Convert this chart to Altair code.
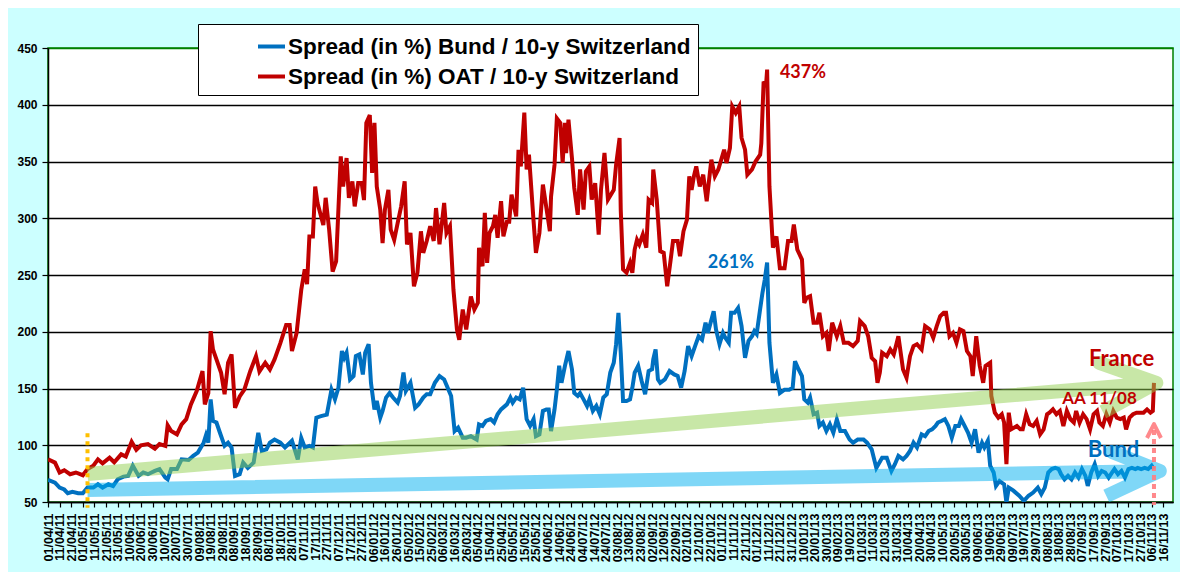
import altair as alt
import pandas as pd

bund_name = "Spread (in %) Bund / 10-y Switzerland"
oat_name = "Spread (in %) OAT / 10-y Switzerland"

oat_dates = [
    "2011-04-01", "2011-04-07", "2011-04-11", "2011-04-15", "2011-04-20", "2011-04-25",
    "2011-05-01", "2011-05-05", "2011-05-10", "2011-05-14", "2011-05-18", "2011-05-24", "2011-05-28",
    "2011-06-03", "2011-06-07", "2011-06-12", "2011-06-16", "2011-06-20", "2011-06-26",
    "2011-07-02", "2011-07-06", "2011-07-11", "2011-07-13", "2011-07-16", "2011-07-21", "2011-07-25", "2011-07-29",
    "2011-08-02", "2011-08-07", "2011-08-12", "2011-08-14", "2011-08-17", "2011-08-19", "2011-08-21", "2011-08-24", "2011-08-28", "2011-08-31",
    "2011-09-03", "2011-09-06", "2011-09-09", "2011-09-13", "2011-09-17", "2011-09-22", "2011-09-27", "2011-09-30",
    "2011-10-05", "2011-10-09", "2011-10-13", "2011-10-18", "2011-10-23", "2011-10-26", "2011-10-28",
    "2011-11-01", "2011-11-05", "2011-11-08", "2011-11-10", "2011-11-12", "2011-11-15", "2011-11-17", "2011-11-19", "2011-11-24", "2011-11-26", "2011-11-29",
    "2011-12-02", "2011-12-05", "2011-12-09", "2011-12-11", "2011-12-14", "2011-12-16", "2011-12-19", "2011-12-21", "2011-12-24", "2011-12-27", "2011-12-29", "2011-12-31",
    "2012-01-03", "2012-01-05", "2012-01-07", "2012-01-09", "2012-01-12", "2012-01-14", "2012-01-16", "2012-01-19", "2012-01-21", "2012-01-24", "2012-01-27", "2012-01-30",
    "2012-02-02", "2012-02-04", "2012-02-07", "2012-02-10", "2012-02-13", "2012-02-16", "2012-02-18", "2012-02-21", "2012-02-24", "2012-02-27", "2012-02-29",
    "2012-03-03", "2012-03-07", "2012-03-09", "2012-03-12", "2012-03-15", "2012-03-18", "2012-03-20", "2012-03-23", "2012-03-26", "2012-03-30",
    "2012-04-02", "2012-04-05", "2012-04-06", "2012-04-09", "2012-04-11", "2012-04-13", "2012-04-15", "2012-04-18", "2012-04-20", "2012-04-22", "2012-04-25", "2012-04-27", "2012-04-30",
    "2012-05-02", "2012-05-04", "2012-05-08", "2012-05-10", "2012-05-12", "2012-05-15", "2012-05-17", "2012-05-19", "2012-05-23", "2012-05-25", "2012-05-28", "2012-05-31",
    "2012-06-03", "2012-06-06", "2012-06-07", "2012-06-10", "2012-06-12", "2012-06-15", "2012-06-17", "2012-06-19", "2012-06-20", "2012-06-22", "2012-06-25", "2012-06-27", "2012-06-30",
    "2012-07-02", "2012-07-05", "2012-07-07", "2012-07-10", "2012-07-12", "2012-07-15", "2012-07-18", "2012-07-20", "2012-07-23", "2012-07-26", "2012-07-31",
    "2012-08-02", "2012-08-05", "2012-08-06", "2012-08-08", "2012-08-11", "2012-08-14", "2012-08-16", "2012-08-18", "2012-08-20", "2012-08-22", "2012-08-25", "2012-08-28", "2012-08-30",
    "2012-09-02", "2012-09-03", "2012-09-06", "2012-09-09", "2012-09-12", "2012-09-15", "2012-09-18", "2012-09-20", "2012-09-24", "2012-09-26", "2012-09-29",
    "2012-10-02", "2012-10-04", "2012-10-06", "2012-10-08", "2012-10-10", "2012-10-13", "2012-10-16", "2012-10-19", "2012-10-23", "2012-10-26", "2012-10-29",
    "2012-11-03", "2012-11-05", "2012-11-08", "2012-11-10", "2012-11-13", "2012-11-16", "2012-11-18", "2012-11-21", "2012-11-23", "2012-11-27", "2012-11-30",
    "2012-12-04", "2012-12-05", "2012-12-07", "2012-12-09", "2012-12-10", "2012-12-12", "2012-12-15", "2012-12-18", "2012-12-21", "2012-12-25", "2012-12-28", "2012-12-31",
    "2013-01-02", "2013-01-05", "2013-01-09", "2013-01-11", "2013-01-13", "2013-01-16", "2013-01-19", "2013-01-22", "2013-01-24", "2013-01-27", "2013-01-30",
    "2013-02-01", "2013-02-04", "2013-02-08", "2013-02-11", "2013-02-14", "2013-02-18", "2013-02-22", "2013-02-26", "2013-02-28",
    "2013-03-04", "2013-03-07", "2013-03-10", "2013-03-13", "2013-03-15", "2013-03-17", "2013-03-19", "2013-03-23", "2013-03-26", "2013-03-29",
    "2013-04-02", "2013-04-06", "2013-04-09", "2013-04-12", "2013-04-15", "2013-04-18", "2013-04-22", "2013-04-25", "2013-04-29",
    "2013-05-02", "2013-05-05", "2013-05-08", "2013-05-11", "2013-05-13", "2013-05-16", "2013-05-19", "2013-05-22", "2013-05-25", "2013-05-28", "2013-05-31",
    "2013-06-03", "2013-06-05", "2013-06-08", "2013-06-11", "2013-06-14", "2013-06-16", "2013-06-20", "2013-06-21", "2013-06-24", "2013-06-27", "2013-06-30",
    "2013-07-02", "2013-07-04", "2013-07-06", "2013-07-08", "2013-07-13", "2013-07-16", "2013-07-18", "2013-07-21", "2013-07-24", "2013-07-27", "2013-07-30",
    "2013-08-02", "2013-08-05", "2013-08-08", "2013-08-10", "2013-08-13", "2013-08-16", "2013-08-19", "2013-08-22", "2013-08-25", "2013-08-28", "2013-08-31",
    "2013-09-02", "2013-09-05", "2013-09-08", "2013-09-11", "2013-09-14", "2013-09-17", "2013-09-20", "2013-09-22", "2013-09-25", "2013-09-28",
    "2013-10-01", "2013-10-04", "2013-10-07", "2013-10-10", "2013-10-13", "2013-10-15", "2013-10-18", "2013-10-21", "2013-10-24", "2013-10-27", "2013-10-30",
    "2013-11-02", "2013-11-05", "2013-11-07", "2013-11-08",
]
oat_values = [
    87.6, 84.7, 76, 78, 74.5, 76,
    73.6, 79, 82, 87.6, 84, 89, 85,
    92, 90, 103, 96, 100, 101,
    97, 101, 99.5, 117.6, 112.5, 109.6, 118.4, 123,
    136, 147.8, 165.4, 136, 146, 200.5, 184.4, 175.6, 163.9, 145,
    172.7, 180, 133, 143, 149, 165, 178.5, 165,
    172.7, 166.8, 175.6, 190, 206, 206, 183,
    199, 237, 255, 242, 284, 284, 328, 313.5, 294, 318, 290,
    253, 262, 354.5, 328, 353, 318, 332.5, 310.5, 331, 331, 316, 384,
    391, 340, 384, 328, 307.6, 278, 307.6, 325, 290, 281, 296, 310.5,
    332.5, 277, 287, 240, 252, 288.5, 269.5, 280, 293, 280, 309,
    277, 313.5, 287, 293, 237, 202, 193, 219.6, 202, 231,
    219.6, 225.5, 274, 257.7, 304.7, 260.7, 287, 293, 303, 282.7, 315, 284, 297,
    297, 320.8, 301.7, 360.4, 345.7, 393, 343, 356, 297, 269.5, 287, 329.6,
    309, 288.5, 319, 347, 388, 384, 348.7, 384, 357.5, 386.8, 353, 326.7, 303,
    343, 307.6, 341.3, 345.7, 316.4, 331, 285.6, 325, 357.5, 316.4, 325,
    347, 370.7, 307.6, 255, 252, 260.7, 252, 272.4, 281, 277, 285.6, 274, 316.4,
    313.5, 343, 316.4, 271, 269.5, 240, 263.6, 280, 280, 266.5, 288.5,
    298.8, 337, 325, 337, 345.7, 328, 338.4, 315, 351.6, 337, 343,
    360.4, 348.7, 362, 398.5, 392.7, 398.5, 370.7, 360.4, 338.4, 343, 350,
    356, 366, 420.5, 416, 431, 328, 274, 284, 256, 256, 280, 280,
    294.4, 272.4, 263.6, 225.5, 230, 231.4, 208, 208, 216.7, 196, 199,
    183, 208, 196, 205, 190.3, 190.3, 187.4, 192, 209.4,
    205, 196, 177, 174, 155, 164, 181.5, 178.5, 184.4, 180,
    196, 166.8, 159.5, 178.5, 187.4, 189, 184.4, 205, 202,
    194.7, 205, 213.7, 216.7, 216.7, 196, 199, 190.3, 202, 200.5, 183,
    178.5, 161, 196, 170, 155, 170, 172.7, 143.4, 128.7, 124.3, 127.3,
    120, 83.3, 128.7, 114, 117, 114, 114, 127.3, 118.4, 117, 121.4,
    109.6, 114, 127.3, 128.7, 131.6, 127.3, 130.2, 117, 130.2, 123, 120,
    130.2, 120, 127.3, 123, 114, 127.3, 130.2, 120, 117, 127.3,
    120, 130.2, 124.3, 123, 124.3, 114, 124.3, 127.3, 128.7, 128.7, 128.7,
    131.6, 128.7, 130.2, 155,
]

bund_dates = [
    "2011-04-01", "2011-04-07", "2011-04-11", "2011-04-15", "2011-04-18", "2011-04-22", "2011-04-27",
    "2011-05-01", "2011-05-05", "2011-05-10", "2011-05-14", "2011-05-18", "2011-05-23", "2011-05-27", "2011-05-31",
    "2011-06-05", "2011-06-09", "2011-06-13", "2011-06-18", "2011-06-22", "2011-06-26",
    "2011-07-02", "2011-07-06", "2011-07-11", "2011-07-13", "2011-07-16", "2011-07-21", "2011-07-25", "2011-07-31",
    "2011-08-04", "2011-08-08", "2011-08-13", "2011-08-15", "2011-08-17", "2011-08-19", "2011-08-21", "2011-08-24", "2011-08-27", "2011-08-31",
    "2011-09-03", "2011-09-06", "2011-09-09", "2011-09-13", "2011-09-16", "2011-09-20", "2011-09-25", "2011-09-29",
    "2011-10-02", "2011-10-06", "2011-10-09", "2011-10-13", "2011-10-18", "2011-10-22", "2011-10-28",
    "2011-11-02", "2011-11-05", "2011-11-08", "2011-11-12", "2011-11-15", "2011-11-18", "2011-11-22", "2011-11-27",
    "2011-12-01", "2011-12-04", "2011-12-07", "2011-12-10", "2011-12-12", "2011-12-14", "2011-12-17", "2011-12-20", "2011-12-22", "2011-12-25", "2011-12-28", "2011-12-30",
    "2012-01-02", "2012-01-04", "2012-01-07", "2012-01-09", "2012-01-12", "2012-01-14", "2012-01-17", "2012-01-20", "2012-01-23", "2012-01-27", "2012-01-29",
    "2012-02-01", "2012-02-03", "2012-02-07", "2012-02-11", "2012-02-14", "2012-02-18", "2012-02-21", "2012-02-24", "2012-02-28",
    "2012-03-03", "2012-03-07", "2012-03-10", "2012-03-13", "2012-03-16", "2012-03-19", "2012-03-23", "2012-03-26", "2012-03-30",
    "2012-04-04", "2012-04-06", "2012-04-09", "2012-04-12", "2012-04-16", "2012-04-19", "2012-04-22", "2012-04-25", "2012-04-30",
    "2012-05-03", "2012-05-05", "2012-05-08", "2012-05-11", "2012-05-14", "2012-05-17", "2012-05-20", "2012-05-23", "2012-05-25", "2012-05-28", "2012-05-31",
    "2012-06-03", "2012-06-05", "2012-06-07", "2012-06-10", "2012-06-12", "2012-06-14", "2012-06-16", "2012-06-19", "2012-06-22", "2012-06-25", "2012-06-27", "2012-06-30",
    "2012-07-02", "2012-07-05", "2012-07-08", "2012-07-10", "2012-07-13", "2012-07-16", "2012-07-19", "2012-07-22", "2012-07-25", "2012-07-28", "2012-07-31",
    "2012-08-02", "2012-08-04", "2012-08-06", "2012-08-08", "2012-08-11", "2012-08-14", "2012-08-16", "2012-08-18", "2012-08-21", "2012-08-24", "2012-08-27", "2012-08-30",
    "2012-09-02", "2012-09-03", "2012-09-05", "2012-09-07", "2012-09-09", "2012-09-13", "2012-09-17", "2012-09-21", "2012-09-24", "2012-09-27", "2012-09-30",
    "2012-10-03", "2012-10-06", "2012-10-09", "2012-10-12", "2012-10-15", "2012-10-18", "2012-10-20", "2012-10-25", "2012-10-27", "2012-10-30",
    "2012-11-02", "2012-11-04", "2012-11-07", "2012-11-09", "2012-11-12", "2012-11-15", "2012-11-18", "2012-11-21", "2012-11-24", "2012-11-27", "2012-11-29",
    "2012-12-01", "2012-12-04", "2012-12-06", "2012-12-08", "2012-12-10", "2012-12-12", "2012-12-15", "2012-12-18", "2012-12-21", "2012-12-25", "2012-12-29",
    "2013-01-01", "2013-01-03", "2013-01-06", "2013-01-09", "2013-01-11", "2013-01-14", "2013-01-16", "2013-01-19", "2013-01-22", "2013-01-24", "2013-01-27", "2013-01-30",
    "2013-02-02", "2013-02-05", "2013-02-08", "2013-02-11", "2013-02-15", "2013-02-19", "2013-02-22", "2013-02-26",
    "2013-03-03", "2013-03-06", "2013-03-10", "2013-03-14", "2013-03-19", "2013-03-23", "2013-03-27", "2013-03-30",
    "2013-04-02", "2013-04-06", "2013-04-09", "2013-04-12", "2013-04-15", "2013-04-18", "2013-04-22", "2013-04-25", "2013-04-28",
    "2013-05-01", "2013-05-04", "2013-05-06", "2013-05-09", "2013-05-12", "2013-05-15", "2013-05-18", "2013-05-21", "2013-05-24", "2013-05-26", "2013-05-29",
    "2013-06-01", "2013-06-04", "2013-06-07", "2013-06-10", "2013-06-13", "2013-06-15", "2013-06-18", "2013-06-20", "2013-06-23", "2013-06-25", "2013-06-28",
    "2013-07-02", "2013-07-04", "2013-07-06", "2013-07-10", "2013-07-15", "2013-07-19", "2013-07-23", "2013-07-27", "2013-07-31",
    "2013-08-03", "2013-08-06", "2013-08-09", "2013-08-12", "2013-08-15", "2013-08-18", "2013-08-20", "2013-08-23", "2013-08-26", "2013-08-29",
    "2013-09-01", "2013-09-04", "2013-09-07", "2013-09-10", "2013-09-12", "2013-09-15", "2013-09-18", "2013-09-21", "2013-09-24", "2013-09-27", "2013-09-30",
    "2013-10-03", "2013-10-05", "2013-10-08", "2013-10-11", "2013-10-14", "2013-10-17", "2013-10-20", "2013-10-23", "2013-10-25", "2013-10-28", "2013-10-31",
    "2013-11-03", "2013-11-06", "2013-11-08",
]
bund_values = [
    69.5, 67, 62.7, 61, 57.7, 59, 57.7,
    57.7, 62.7, 62.7, 65.6, 62.7, 65.6, 64, 70,
    72.4, 73, 82, 73, 76, 74.5,
    77.4, 79, 71.5, 70, 79, 79, 87.6, 87,
    90.6, 93.5, 102.3, 108.8, 102.3, 140.4, 121.4, 120, 111, 99.5,
    102.3, 98, 73, 74.5, 84.7, 80, 84.7, 111,
    95, 96.4, 102.3, 105, 102.3, 98, 104,
    87.6, 106.4, 98, 99.5, 98, 124.3, 125.7, 127,
    149, 140.4, 150.7, 183, 177, 181.5, 158, 161, 178.5, 180, 162.4, 181.5,
    189, 155, 131.6, 139, 124.3, 130.2, 142, 146, 142, 137.5, 143.4,
    164, 147.8, 155, 133, 136, 142, 145, 145, 155,
    161, 158, 150.7, 143.4, 112.5, 115.5, 106.7, 106.7, 108,
    105, 118.4, 117, 121.4, 123, 120, 127.3, 131.6, 136,
    142, 137.5, 142, 140.4, 150.7, 123, 117, 123, 108, 109.5, 130.2,
    131.6, 131.6, 112.5, 131.6, 149, 170, 155, 170, 183, 167, 146, 143.4,
    146, 140.4, 134.6, 140.4, 130.2, 134.6, 127.3, 142, 145, 164, 172.7,
    189, 216.7, 181.5, 139, 139, 140.4, 150.7, 164, 170, 156.6, 145, 165.4,
    167, 175.6, 184.4, 158, 155, 158, 165.4, 162.4, 161, 150.7, 165.4,
    187.4, 178.5, 187.4, 196, 193, 208, 199, 218, 202, 189,
    199, 194.7, 190.3, 216.7, 216.7, 221, 205, 177, 192, 196, 200.6,
    198, 220, 234.3, 246, 261, 190.3, 155, 162.4, 146, 149, 149,
    150.7, 174, 167, 161, 140.4, 137.5, 142, 127.3, 128.7, 117, 120, 112.6,
    118.5, 111, 122.8, 112.6, 112.6, 105, 102.3, 105,
    105, 102.3, 96.4, 80, 89, 89, 77.4, 83.3,
    90.6, 87.6, 90.6, 95, 102.3, 98, 109.6, 108, 112.5,
    114, 117, 120, 121.4, 123, 117, 106.7, 117, 117, 123, 117,
    111, 102.3, 114, 93.5, 102.3, 98, 104, 82, 76, 64.2, 68.5,
    65.6, 49.5, 62.7, 60, 55.5, 51, 55.5, 58.3, 62.7,
    57, 62.7, 76, 79, 80, 79, 74.5, 70, 73, 70,
    76, 71.5, 79, 73, 64.2, 76, 83.3, 73, 77.4, 76, 71.5,
    76, 79, 74.5, 77.4, 71.5, 79, 80, 79, 80, 79, 80,
    79, 82, 79,
]

# hand-drawn arrows of the original: main shaft, then the two arms of the head
green_arrow_dates = ["2011-05-05", "2013-11-10", "2013-09-22", "2013-11-10", "2013-09-25"]
green_arrow_values = [74.7, 154.9, 172.5, 154.9, 129.3]
blue_arrow_dates = ["2011-05-05", "2013-11-13", "2013-10-03", "2013-11-13", "2013-09-28"]
blue_arrow_values = [60.6, 77.3, 94.1, 77.3, 55.3]
pink_head_dates = ["2013-11-02", "2013-11-08", "2013-11-14"]
pink_head_values = [106.4, 118.7, 106.4]

tick_dates = pd.date_range("2011-04-01", "2013-11-16", freq="10D")
tick_ms = [int(t.value // 10**6) for t in tick_dates]
y_ticks = [50, 100, 150, 200, 250, 300, 350, 400, 450]

lines = pd.concat([
    pd.DataFrame({"date": bund_dates, "spread": bund_values, "series": bund_name}),
    pd.DataFrame({"date": oat_dates, "spread": oat_values, "series": oat_name}),
])

x_scale = alt.Scale(
    type="utc",
    domain=[alt.DateTime(year=2011, month=4, date=1, utc=True),
            alt.DateTime(year=2013, month=11, date=24, hours=9, utc=True)],
)
y_scale = alt.Scale(domain=[50, 450], nice=False, zero=False)

X = alt.X("date:T", scale=x_scale, title=None, axis=alt.Axis(
    values=tick_ms, format="%d/%m/%y", labelAngle=270, grid=False,
    labelFontSize=12.5, labelOverlap=False, labelFlush=False, labelBound=False,
    tickSize=5, labelPadding=6,
))
Y = alt.Y("spread:Q", scale=y_scale, title=None, axis=alt.Axis(
    values=y_ticks, grid=True, gridWidth=1.3,
    gridColor={"condition": {"test": "datum.value === 450", "value": "#008000"}, "value": "black"},
    labelFontSize=12, tickSize=6, labelPadding=5,
))
Y2 = alt.Y2("spread2:Q")

series = alt.Chart(lines).mark_line(strokeWidth=4, clip=True).encode(
    x=X, y=Y,
    color=alt.Color("series:N",
        scale=alt.Scale(domain=[bund_name, oat_name], range=["#0070C0", "#C00000"]),
        legend=alt.Legend(
            title=None, orient="none", legendX=150, legendY=-24,
            fillColor="white", strokeColor="black", padding=7,
            labelFont="Liberation Sans", labelFontSize=22.5, labelFontWeight="bold",
            labelColor="black", labelLimit=700, symbolType="stroke",
            symbolStrokeWidth=4, symbolSize=729, symbolOffset=51, labelOffset=1,
            rowPadding=3,
        )),
)


def arrow(dates, values, color, width, opacity):
    df = pd.DataFrame({"date": dates, "spread": values, "step": list(range(len(dates)))})
    return alt.Chart(df).mark_line(
        color=color, strokeWidth=width, opacity=opacity, strokeCap="butt", strokeJoin="round"
    ).encode(x=X, y=Y, order="step:Q")


green_arrow = arrow(green_arrow_dates, green_arrow_values, "#92D050", 14, 0.5)
blue_arrow = arrow(blue_arrow_dates, blue_arrow_values, "#00B0F0", 14, 0.5)
pink_head = arrow(pink_head_dates, pink_head_values, "#FF7C80", 4, 0.9)

yellow_line = alt.Chart(pd.DataFrame({"date": ["2011-05-05"], "spread": [110.5], "spread2": [44.9]})).mark_rule(
    color="#FFC000", strokeWidth=4, strokeDash=[4, 4]
).encode(x=X, y=Y, y2=Y2)

pink_line = alt.Chart(pd.DataFrame({"date": ["2013-11-08"], "spread": [113.5], "spread2": [47.4]})).mark_rule(
    color="#FF7C80", strokeWidth=4, strokeDash=[5, 4], opacity=0.9
).encode(x=X, y=Y, y2=Y2)


def label(text, date, value, color, size):
    df = pd.DataFrame({"date": [date], "spread": [value], "text": [text]})
    return alt.Chart(df).mark_text(
        align="left", baseline="middle", font="Lato", fontWeight="bold",
        fontSize=size, color=color,
    ).encode(x=X, y=Y, text="text:N")


labels = [
    label("437%", "2012-12-21", 428.4, "#C00000", 18),
    label("261%", "2012-10-20", 261, "#0070C0", 18),
    label("France", "2013-09-13", 175.6, "#C00000", 22),
    label("AA 11/08", "2013-08-21", 140.8, "#C00000", 17),
    label("Bund", "2013-09-12", 95.8, "#0070C0", 22),
]

chart = alt.layer(
    series, green_arrow, blue_arrow, yellow_line, pink_line, pink_head, *labels
).properties(
    width=1125, height=454,
    padding={"left": 40, "top": 40, "right": 7, "bottom": 70},
    autosize=alt.AutoSizeParams(type="none"),
    background="#CCFFFF",
).configure_axis(
    labelFont="Liberation Sans", labelFontWeight="bold", labelColor="black",
    domainColor="black", domainWidth=1.5, tickColor="black", tickWidth=1.2,
).configure_view(
    fill="white", stroke="#008000", strokeWidth=1.5,
)

chart.save("out.html", embed_options={"renderer": "svg", "actions": False})
